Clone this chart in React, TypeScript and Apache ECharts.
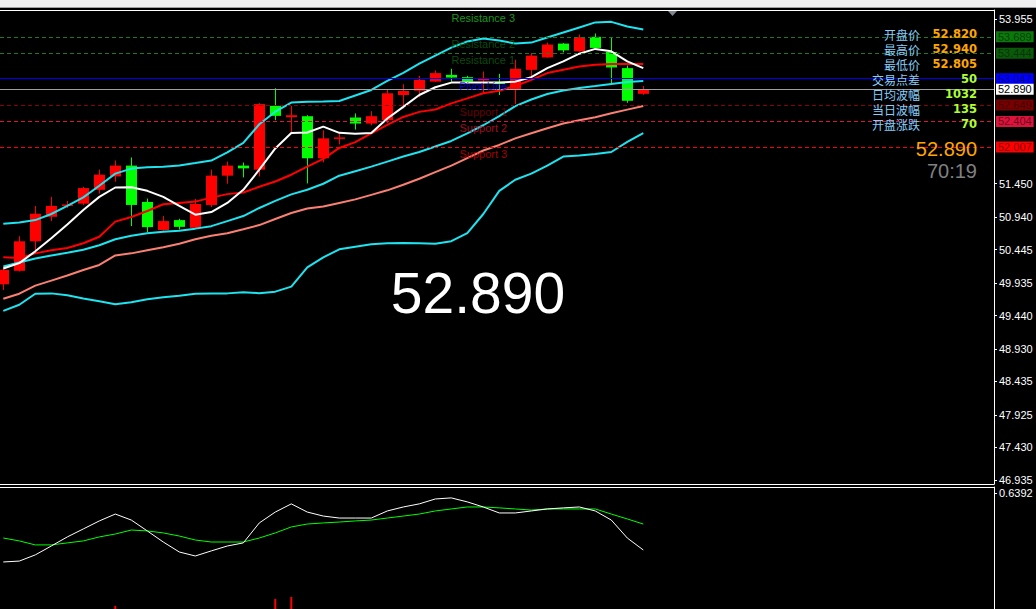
import React, { useEffect, useRef } from "react";
import * as echarts from "echarts";

// ---- candle data (index 0..40) ----
const OPEN = [49.916, 50.122, 50.572, 50.946, 51.111, 51.146, 51.357, 51.561, 51.726, 51.172, 50.742, 50.895, 50.777, 51.126, 51.572, 51.726, 51.664, 52.637, 52.464, 52.479, 51.838, 52.133, 52.459, 52.367, 52.418, 52.802, 52.868, 53.006, 53.109, 53.074, 53.033, 53.002, 52.890, 53.186, 53.375, 53.586, 53.468, 53.689, 53.458, 53.212, 52.820];
const CLOSE = [50.137, 50.572, 50.992, 51.111, 51.134, 51.383, 51.587, 51.726, 51.126, 50.788, 50.880, 50.792, 51.141, 51.572, 51.726, 51.684, 52.664, 52.484, 52.494, 51.838, 52.141, 52.156, 52.367, 52.479, 52.828, 52.863, 53.033, 53.136, 53.068, 53.006, 53.048, 52.971, 53.202, 53.402, 53.571, 53.483, 53.683, 53.520, 53.222, 52.714, 52.890];
const LOW = [49.830, 50.111, 50.393, 50.880, 51.080, 51.126, 51.300, 51.480, 50.803, 50.711, 50.734, 50.752, 50.772, 51.095, 51.449, 51.546, 51.561, 52.418, 52.238, 51.454, 51.776, 52.049, 52.275, 52.341, 52.371, 52.597, 52.767, 53.002, 53.006, 52.986, 52.828, 52.802, 52.664, 53.059, 53.371, 53.452, 53.463, 53.494, 52.956, 52.684, 52.805];
const HIGH = [50.157, 50.649, 51.111, 51.249, 51.188, 51.403, 51.664, 51.803, 51.849, 51.223, 50.957, 50.915, 51.218, 51.664, 51.787, 51.772, 52.679, 52.905, 52.637, 52.494, 52.264, 52.218, 52.521, 52.556, 52.879, 52.966, 53.094, 53.176, 53.202, 53.094, 53.160, 53.125, 53.340, 53.443, 53.601, 53.594, 53.724, 53.740, 53.674, 53.252, 52.940];

// ---- overlay lines ----
const MA_FAST = [50.157, 50.239, 50.419, 50.619, 50.829, 51.049, 51.249, 51.392, 51.395, 51.341, 51.249, 51.111, 50.977, 51.018, 51.157, 51.357, 51.664, 51.987, 52.222, 52.230, 52.321, 52.225, 52.213, 52.222, 52.444, 52.622, 52.802, 52.920, 52.991, 52.991, 52.991, 52.991, 53.006, 53.074, 53.212, 53.314, 53.432, 53.505, 53.468, 53.314, 53.212];
const MA_MID = [50.327, 50.316, 50.388, 50.434, 50.470, 50.542, 50.642, 50.872, 50.942, 51.034, 51.137, 51.157, 51.177, 51.238, 51.291, 51.315, 51.403, 51.484, 51.587, 51.710, 51.829, 51.995, 52.084, 52.218, 52.348, 52.468, 52.545, 52.582, 52.674, 52.751, 52.828, 52.868, 52.940, 53.033, 53.136, 53.186, 53.237, 53.263, 53.274, 53.274, 53.274];
const MA_SLOW = [49.696, 49.773, 49.896, 49.973, 50.050, 50.134, 50.211, 50.357, 50.388, 50.434, 50.480, 50.534, 50.603, 50.657, 50.696, 50.757, 50.819, 50.911, 51.003, 51.072, 51.103, 51.157, 51.211, 51.280, 51.349, 51.434, 51.526, 51.626, 51.726, 51.841, 51.956, 52.041, 52.141, 52.218, 52.295, 52.367, 52.418, 52.464, 52.525, 52.579, 52.633];
const BAND_UPPER = [50.839, 50.857, 50.895, 50.988, 51.111, 51.241, 51.418, 51.603, 51.680, 51.700, 51.710, 51.726, 51.764, 51.803, 51.926, 52.072, 52.356, 52.548, 52.687, 52.699, 52.702, 52.710, 52.794, 52.879, 53.017, 53.140, 53.279, 53.402, 53.525, 53.617, 53.663, 53.632, 53.586, 53.601, 53.678, 53.755, 53.832, 53.909, 53.917, 53.847, 53.801];
const BAND_MIDDLE = [50.188, 50.250, 50.311, 50.357, 50.396, 50.442, 50.511, 50.603, 50.657, 50.696, 50.719, 50.734, 50.765, 50.803, 50.880, 50.957, 51.080, 51.188, 51.287, 51.357, 51.449, 51.572, 51.641, 51.710, 51.787, 51.864, 51.933, 52.018, 52.102, 52.218, 52.341, 52.479, 52.633, 52.733, 52.817, 52.871, 52.910, 52.940, 52.971, 53.002, 53.017];
const BAND_LOWER = [49.512, 49.604, 49.773, 49.778, 49.750, 49.701, 49.658, 49.612, 49.642, 49.688, 49.719, 49.742, 49.773, 49.778, 49.778, 49.796, 49.781, 49.804, 49.881, 50.173, 50.327, 50.450, 50.488, 50.526, 50.542, 50.546, 50.542, 50.534, 50.573, 50.696, 50.988, 51.341, 51.510, 51.603, 51.726, 51.864, 51.879, 51.902, 51.933, 52.087, 52.222];

// ---- oscillator panel ----
const OSC_FAST = [0.259, 0.264, 0.298, 0.347, 0.397, 0.441, 0.485, 0.523, 0.490, 0.430, 0.369, 0.314, 0.292, 0.320, 0.347, 0.364, 0.474, 0.534, 0.579, 0.534, 0.512, 0.501, 0.501, 0.501, 0.540, 0.562, 0.579, 0.606, 0.612, 0.590, 0.562, 0.529, 0.529, 0.540, 0.551, 0.557, 0.562, 0.540, 0.490, 0.391, 0.325];
const OSC_SLOW = [0.391, 0.375, 0.353, 0.353, 0.364, 0.375, 0.397, 0.413, 0.435, 0.430, 0.419, 0.402, 0.380, 0.369, 0.369, 0.369, 0.391, 0.419, 0.452, 0.468, 0.474, 0.479, 0.485, 0.490, 0.501, 0.512, 0.523, 0.540, 0.551, 0.562, 0.562, 0.557, 0.551, 0.545, 0.551, 0.551, 0.551, 0.551, 0.523, 0.496, 0.468];
const OSC_BAR_INDEX = [7, 17, 18];
const OSC_BAR_VALUE = [0.017, 0.055, 0.066];

// ---- axes (labels hidden behind the price boxes are left out) ----
const PRICE_TICKS = [53.955, 51.450, 50.940, 50.445, 49.935, 49.440, 48.930, 48.435, 47.925, 47.430, 46.935];
const OSC_TICKS = [0.6392];

// ---- pivot levels ----
const LEVEL_NAMES = ["Resistance 3", "Resistance 2", "Resistance 1", "Pivot Line", "Support 1", "Support 2", "Support 3"];
const LEVEL_VALUES = [54.087, 53.689, 53.444, 53.047, 52.649, 52.404, 52.007];
const LEVEL_TEXT_COLORS = ["#1fbf1f", "#0f5f0f", "#0f5f0f", "#0000ff", "#800000", "#c8102e", "#d00000"];
const LEVEL_LINE_COLORS = ["", "#1f7a1f", "#1f7a1f", "#0000ee", "#8b0000", "#dc143c", "#ff0000"];
const LEVEL_BOX_COLORS = ["", "#0a7a0a", "#0a5a0a", "#0000ff", "#7a0000", "#dc143c", "#ff0000"];
const LEVEL_BOX_TEXT = ["", "#0a3d0a", "#0a330a", "#00007a", "#3d0000", "#6e0a1e", "#800000"];
const CURRENT_PRICE = 52.89;

// ---- info panel ----
const INFO_LABELS = ["开盘价", "最高价", "最低价", "交易点差", "日均波幅", "当日波幅", "开盘涨跌"];
const INFO_VALUES = ["52.820", "52.940", "52.805", "50", "1032", "135", "70"];
const INFO_VALUE_COLORS = ["#ffa500", "#ffa500", "#ffa500", "#adff2f", "#adff2f", "#adff2f", "#adff2f"];
const BIG_PRICE = "52.890";
const COUNTDOWN = "70:19";

const UP = "#ff0000";
const DOWN = "#00ff00";
const CYAN = "#1ee4f0";

export default function App() {
  const ref = useRef<HTMLDivElement>(null);
  useEffect(() => {
    document.body.style.margin = "0";
    const chart = echarts.init(ref.current!, undefined, { renderer: "svg" });
    const X_MIN = -0.206;
    const X_MAX = 61.92;
    const candleData = OPEN.map((o, i) => [i, o, CLOSE[i], LOW[i], HIGH[i]]);
    const toPts = (arr: number[]) => arr.map((v, i) => [i, v]);
    const lineS = (arr: number[], color: string, width: number, z = 3, xi = 0) => ({
      type: "line",
      xAxisIndex: xi,
      yAxisIndex: xi,
      data: toPts(arr),
      symbol: "none",
      silent: true,
      z,
      lineStyle: { color, width },
    });
    const font = "Liberation Sans, Arial, sans-serif";

    const boxLabel = (text: string, bg: string, fg: string) => ({
      show: true,
      position: "end",
      distance: 2,
      formatter: text,
      backgroundColor: bg,
      color: fg,
      padding: [0, 2, 0, 2],
      fontSize: 11,
      lineHeight: 11,
      fontFamily: font,
    });

    const markData: any[] = [];
    for (let k = 1; k < LEVEL_VALUES.length; k++) {
      markData.push({
        yAxis: LEVEL_VALUES[k],
        lineStyle: { color: LEVEL_LINE_COLORS[k], width: 1, type: k === 3 ? "solid" : [4, 3] },
        label: boxLabel(LEVEL_VALUES[k].toFixed(3), LEVEL_BOX_COLORS[k], LEVEL_BOX_TEXT[k]),
      });
    }
    markData.push({
      yAxis: CURRENT_PRICE,
      lineStyle: { color: "#a0a0a0", width: 1, type: "solid" },
      label: boxLabel(CURRENT_PRICE.toFixed(3), "#ffffff", "#000000"),
    });

    const graphics: any[] = [
      { type: "rect", shape: { x: 0, y: 0, width: 1036, height: 7 }, style: { fill: "#f0f0f0" }, z: 10 },
      { type: "line", shape: { x1: 0, y1: 7.5, x2: 1036, y2: 7.5 }, style: { stroke: "#a0a0a0", lineWidth: 1 }, z: 10 },
      { type: "polygon", shape: { points: [[668, 11], [677, 11], [672.5, 16]] }, style: { fill: "#7f8890" }, z: 10 },
      {
        type: "text", x: 478, y: 293, z: 10,
        style: { text: BIG_PRICE, fill: "#ffffff", font: `57px ${font}`, textAlign: "center", textVerticalAlign: "middle" },
      },
      {
        type: "text", x: 977, y: 149, z: 10,
        style: { text: BIG_PRICE, fill: "#ffa500", font: `20px ${font}`, textAlign: "right", textVerticalAlign: "middle" },
      },
      {
        type: "text", x: 977, y: 171, z: 10,
        style: { text: COUNTDOWN, fill: "#808080", font: `20px ${font}`, textAlign: "right", textVerticalAlign: "middle" },
      },
    ];
    INFO_LABELS.forEach((lab, k) => {
      graphics.push({
        type: "text", x: 920, y: 34.3 + 15 * k, z: 10,
        style: { text: lab, fill: "#87cefa", font: `12px "Noto Sans CJK SC", sans-serif`, textAlign: "right", textVerticalAlign: "middle" },
      });
      graphics.push({
        type: "text", x: 977, y: 34.3 + 15 * k, z: 10,
        style: { text: INFO_VALUES[k], fill: INFO_VALUE_COLORS[k], font: `bold 11.5px "DejaVu Sans", sans-serif`, textAlign: "right", textVerticalAlign: "middle" },
      });
    });

    const axisLineW = { show: true, onZero: false, lineStyle: { color: "#ffffff", width: 1 } };
    const hiddenX = (gridIndex: number, position: string) => ({
      type: "value",
      gridIndex,
      position,
      min: X_MIN,
      max: X_MAX,
      axisLine: axisLineW,
      axisTick: { show: false },
      axisLabel: { show: false },
      splitLine: { show: false },
    });

    chart.setOption({
      animation: false,
      backgroundColor: "#000000",
      graphic: { elements: graphics },
      grid: [
        { left: 0, top: 10, width: 994, height: 474 },
        { left: 0, top: 487, width: 994, height: 122 },
      ],
      xAxis: [hiddenX(0, "bottom"), hiddenX(1, "top"), hiddenX(0, "top")],
      yAxis: [
        {
          type: "value",
          gridIndex: 0,
          position: "right",
          min: 46.872,
          max: 54.098,
          axisLine: axisLineW,
          axisTick: { show: true, length: 3, lineStyle: { color: "#ffffff" }, customValues: PRICE_TICKS },
          axisLabel: {
            show: true,
            customValues: PRICE_TICKS,
            formatter: (v: number) => v.toFixed(3),
            color: "#ffffff",
            fontSize: 11,
            fontFamily: font,
            margin: 5,
          },
          splitLine: { show: false },
        },
        {
          type: "value",
          gridIndex: 1,
          position: "right",
          min: 0,
          max: 0.672,
          axisLine: axisLineW,
          axisTick: { show: true, length: 3, lineStyle: { color: "#ffffff" }, customValues: OSC_TICKS },
          axisLabel: {
            show: true,
            customValues: OSC_TICKS,
            formatter: (v: number) => v.toFixed(4),
            color: "#ffffff",
            fontSize: 11,
            fontFamily: font,
            margin: 5,
          },
          splitLine: { show: false },
        },
      ],
      series: [
        {
          type: "custom",
          xAxisIndex: 0,
          yAxisIndex: 0,
          z: 2,
          silent: true,
          data: candleData,
          encode: { x: 0, y: [1, 2, 3, 4] },
          renderItem: (params: any, api: any) => {
            const i = api.value(0);
            const o = api.value(1);
            const c = api.value(2);
            const l = api.value(3);
            const h = api.value(4);
            const pO = api.coord([i, o]);
            const yC = api.coord([i, c])[1];
            const yL = api.coord([i, l])[1];
            const yH = api.coord([i, h])[1];
            const w = Math.round(api.size([1, 0])[0] * 0.69);
            const color = c >= o ? UP : DOWN;
            const xc = Math.round(pO[0]);
            const top = Math.min(pO[1], yC);
            const bh = Math.max(Math.abs(pO[1] - yC), 1.5);
            return {
              type: "group",
              children: [
                { type: "line", shape: { x1: xc + 0.5, y1: yH, x2: xc + 0.5, y2: yL }, style: { stroke: color, lineWidth: 1 } },
                { type: "rect", shape: { x: xc - (w - 1) / 2, y: top, width: w, height: bh }, style: { fill: color } },
              ],
            };
          },
        },
        lineS(MA_SLOW, "#fa8072", 2),
        lineS(BAND_LOWER, CYAN, 2),
        lineS(BAND_MIDDLE, CYAN, 2),
        lineS(BAND_UPPER, CYAN, 2),
        lineS(MA_MID, "#ff0000", 2),
        lineS(MA_FAST, "#ffffff", 2),
        {
          type: "line",
          xAxisIndex: 0,
          yAxisIndex: 0,
          data: [],
          z: 4,
          silent: true,
          markLine: { silent: true, symbol: ["none", "none"], animation: false, data: markData },
        },
        {
          type: "scatter",
          xAxisIndex: 0,
          yAxisIndex: 0,
          z: 5,
          silent: true,
          symbolSize: 1,
          itemStyle: { color: "rgba(0,0,0,0)" },
          data: LEVEL_VALUES.map((v, k) => ({
            value: [30, v],
            label: {
              show: true,
              position: "inside",
              offset: [0, 7],
              formatter: LEVEL_NAMES[k],
              color: LEVEL_TEXT_COLORS[k],
              fontSize: 11,
              fontFamily: font,
            },
          })),
        },
        lineS(OSC_SLOW, "#00ff00", 1, 3, 1),
        lineS(OSC_FAST, "#ffffff", 1, 3, 1),
        {
          type: "bar",
          xAxisIndex: 1,
          yAxisIndex: 1,
          barWidth: 2,
          silent: true,
          itemStyle: { color: "#ff0000" },
          data: OSC_BAR_INDEX.map((x, k) => [x, OSC_BAR_VALUE[k]]),
        },
      ],
    });
    return () => chart.dispose();
  }, []);
  return <div ref={ref} style={{ width: 1036, height: 609, background: "#000" }} />;
}
